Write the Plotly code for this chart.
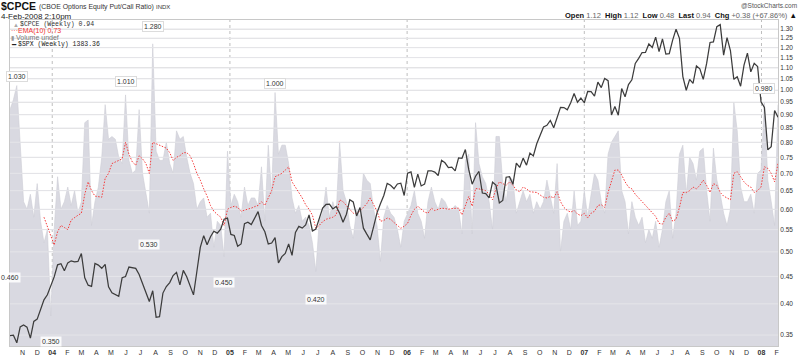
import math
import pandas as pd
import plotly.graph_objects as go

# ---------------- data (weekly, week-start Mondays) ----------------
week_first = "2003-10-06"
week_last = "2008-02-04"

cpce_close = [
    0.92, 0.96, 1.02, 0.80, 0.62, 0.60, 0.64, 0.58, 0.67, 0.57,
    0.52, 0.55, 0.38, 0.55, 0.69, 0.60, 0.62, 0.66, 0.61, 0.65,
    0.59, 0.62, 0.87, 0.88, 0.56, 0.62, 0.66, 0.75, 0.94, 0.81,
    0.82, 0.81, 0.75, 0.73, 0.98, 0.74, 0.70, 0.71, 0.92, 0.70,
    0.64, 0.59, 1.22, 0.77, 0.74, 0.74, 0.80, 0.73, 0.70, 0.84,
    0.81, 0.82, 0.75, 0.70, 0.67, 0.60, 0.62, 0.63, 0.58, 0.59,
    0.51, 0.57, 0.56, 0.49, 0.77, 0.61, 0.64, 0.62, 0.58, 0.66,
    0.61, 0.63, 0.63, 0.61, 0.72, 0.57, 0.79, 0.64, 0.99, 0.76,
    0.79, 0.79, 0.73, 0.63, 0.59, 0.61, 0.57, 0.58, 0.56, 0.52,
    0.46, 0.57, 0.59, 0.66, 0.58, 0.62, 0.59, 0.80, 0.65, 0.62,
    0.56, 0.53, 0.60, 0.58, 0.70, 0.68, 0.67, 0.60, 0.56, 0.48,
    0.58, 0.61, 0.59, 0.58, 0.55, 0.51, 0.57, 0.59, 0.61, 0.65,
    0.59, 0.57, 0.53, 0.62, 0.66, 0.62, 0.60, 0.63, 0.62, 0.60,
    0.60, 0.61, 0.60, 0.54, 0.74, 0.76, 0.54, 0.87, 0.73, 0.69,
    0.67, 0.62, 0.55, 0.82, 0.82, 0.67, 0.62, 0.69, 0.68, 0.59,
    0.62, 0.65, 0.62, 0.64, 0.59, 0.62, 0.60, 0.62, 0.68, 0.63,
    0.59, 0.73, 0.50, 0.57, 0.59, 0.55, 0.65, 0.56, 0.57, 0.65,
    0.58, 0.64, 0.70, 0.68, 0.62, 0.59, 0.76, 0.80, 0.82, 0.84,
    0.65, 0.62, 0.54, 0.62, 0.58, 0.56, 0.58, 0.52, 0.55, 0.53,
    0.57, 0.51, 0.55, 0.62, 0.65, 0.53, 0.59, 0.76, 0.79, 0.64,
    0.75, 0.73, 0.68, 0.77, 0.78, 0.65, 0.57, 0.78, 0.68, 0.64,
    0.59, 0.56, 0.60, 0.95, 0.84, 0.66, 0.62, 0.62, 0.64, 0.59,
    0.70, 0.71, 0.95, 0.68, 0.62, 0.56, 0.94,
]

ema10 = [None] * 10 + [
    0.580, 0.557, 0.535, 0.515, 0.545, 0.560, 0.555, 0.550, 0.573, 0.580,
    0.585, 0.590, 0.640, 0.675, 0.650, 0.635, 0.634, 0.632, 0.685, 0.700,
    0.730, 0.735, 0.740, 0.745, 0.800, 0.760, 0.735, 0.725, 0.755, 0.745,
    0.730, 0.700, 0.800, 0.795, 0.790, 0.785, 0.780, 0.765, 0.740, 0.750,
    0.755, 0.765, 0.765, 0.755, 0.730, 0.700, 0.680, 0.655, 0.635, 0.610,
    0.595, 0.587, 0.580, 0.560, 0.600, 0.605, 0.608, 0.605, 0.595, 0.598,
    0.600, 0.603, 0.607, 0.610, 0.620, 0.610, 0.630, 0.650, 0.690, 0.695,
    0.700, 0.710, 0.720, 0.675, 0.660, 0.648, 0.630, 0.612, 0.600, 0.585,
    0.553, 0.560, 0.569, 0.575, 0.578, 0.580, 0.586, 0.625, 0.620, 0.610,
    0.600, 0.590, 0.590, 0.595, 0.605, 0.615, 0.630, 0.610, 0.595, 0.570,
    0.572, 0.578, 0.575, 0.567, 0.560, 0.553, 0.558, 0.565, 0.585, 0.600,
    0.608, 0.600, 0.593, 0.590, 0.603, 0.597, 0.600, 0.603, 0.602, 0.600,
    0.602, 0.603, 0.603, 0.586, 0.608, 0.634, 0.608, 0.656, 0.655, 0.652,
    0.650, 0.640, 0.625, 0.655, 0.675, 0.670, 0.665, 0.675, 0.665, 0.652,
    0.647, 0.660, 0.655, 0.647, 0.645, 0.645, 0.638, 0.632, 0.630, 0.634,
    0.630, 0.647, 0.620, 0.605, 0.597, 0.593, 0.597, 0.588, 0.584, 0.590,
    0.578, 0.590, 0.595, 0.610, 0.612, 0.605, 0.645, 0.675, 0.710, 0.710,
    0.695, 0.675, 0.660, 0.655, 0.640, 0.630, 0.620, 0.610, 0.600, 0.590,
    0.582, 0.565, 0.563, 0.580, 0.590, 0.570, 0.575, 0.605, 0.645, 0.645,
    0.650, 0.660, 0.655, 0.665, 0.680, 0.665, 0.645, 0.670, 0.665, 0.645,
    0.635, 0.630, 0.625, 0.700, 0.705, 0.690, 0.675, 0.665, 0.660, 0.645,
    0.650, 0.660, 0.720, 0.715, 0.700, 0.675, 0.730,
]

spx_close = [
    1038.73, 1039.32, 1028.91, 1050.71, 1053.21, 1050.35, 1035.28, 1058.20, 1061.50, 1074.14, 1088.66, 1095.89,
    1108.48, 1121.86, 1139.83, 1141.55, 1131.13, 1142.76, 1145.81, 1144.11, 1144.94, 1156.86, 1120.57, 1109.78,
    1108.06, 1141.81, 1139.32, 1134.61, 1140.60, 1107.30, 1098.70, 1095.70, 1093.56, 1120.68, 1122.50, 1136.47,
    1135.02, 1134.43, 1125.38, 1112.81, 1101.39, 1086.20, 1101.72, 1063.97, 1064.80, 1098.35, 1107.77, 1113.63,
    1123.92, 1128.55, 1110.11, 1131.50, 1122.14, 1108.20, 1095.74, 1130.20, 1166.17, 1184.17, 1170.34, 1182.65,
    1191.17, 1188.00, 1194.20, 1210.13, 1211.92,
    1186.19, 1184.52, 1167.87, 1171.36, 1203.03, 1205.30, 1201.59, 1211.37, 1222.12, 1200.08, 1190.21, 1171.42,
    1172.92, 1181.20, 1142.62, 1152.12, 1156.85, 1171.35, 1154.05, 1189.28, 1198.78, 1196.02, 1200.93, 1216.96,
    1191.57, 1194.44, 1211.86, 1227.92, 1233.68, 1234.18, 1226.42, 1230.39, 1219.71, 1205.10, 1218.02, 1241.48,
    1237.91, 1215.29, 1228.81, 1195.90, 1186.57, 1177.80, 1198.41, 1220.14, 1234.72, 1248.27, 1268.25, 1265.08,
    1259.37, 1267.32, 1268.66, 1248.29,
    1285.45, 1287.61, 1261.49, 1283.72, 1264.03, 1266.99, 1289.38, 1289.43, 1287.23, 1281.42, 1307.25, 1302.95,
    1294.83, 1295.50, 1289.12, 1311.28, 1310.61, 1325.76, 1291.24, 1267.03, 1280.16, 1288.22, 1252.30, 1251.54,
    1244.50, 1270.20, 1265.48, 1236.20, 1240.29, 1278.55, 1279.36, 1266.74, 1302.30, 1295.09, 1311.01, 1298.92,
    1319.66, 1314.78, 1335.85, 1349.59, 1365.62, 1368.60, 1377.34, 1364.30, 1380.90, 1401.20, 1400.95, 1396.71,
    1409.84, 1427.09, 1410.76, 1418.30,
    1409.71, 1430.73, 1430.50, 1422.18, 1448.39, 1438.06, 1455.54, 1451.19, 1387.17, 1402.84, 1386.95, 1436.11,
    1420.86, 1443.76, 1452.85, 1484.35, 1494.07, 1505.62, 1505.85, 1522.75, 1515.73, 1536.34, 1507.67, 1532.91,
    1502.56, 1503.35, 1530.44, 1552.50, 1534.10, 1458.95, 1433.06, 1453.64, 1445.94, 1479.37, 1473.99, 1453.55,
    1484.25, 1525.75, 1526.75, 1557.59, 1561.80, 1500.63, 1535.28, 1509.65, 1453.70, 1458.74, 1440.70, 1481.14,
    1504.66, 1467.95, 1484.46, 1478.49,
    1411.63, 1401.02, 1325.19, 1330.61, 1395.42, 1383.36,
]

high_dates = ["2003-10-20", "2004-05-31", "2004-07-26", "2005-04-04", "2008-01-07"]
high_values = [1.030, 1.010, 1.280, 1.000, 0.980]
low_dates = ["2003-10-06", "2003-12-29", "2004-07-19", "2004-12-20", "2005-06-27"]
low_values = [0.460, 0.350, 0.530, 0.450, 0.420]

y_ticks = [1.30, 1.25, 1.20, 1.15, 1.10, 1.05, 1.00, 0.95, 0.90, 0.85, 0.80,
           0.75, 0.70, 0.65, 0.60, 0.55, 0.50, 0.45, 0.40, 0.35]
month_letters = ["J", "F", "M", "A", "M", "J", "J", "A", "S", "O", "N", "D"]
year_starts = ["2004-01-01", "2005-01-01", "2006-01-01", "2007-01-01", "2008-01-01"]

cpce_range = [0.3339, 1.3512]
spx_range = [1024.7, 1571.3]

# ---------------- figure ----------------
W, H = 800, 357
L, R, T, B = 10, 22, 20, 11
PW, PH = W - L - R, H - T - B


def px(x):
    return (x - L) / PW


def py(y):
    return 1 - (y - T) / PH


dates = pd.date_range(week_first, week_last, freq="W-MON")

fig = go.Figure()
fig.add_trace(go.Scatter(x=dates, y=[0.2] * len(dates), mode="lines",
                         line=dict(width=0), hoverinfo="skip", showlegend=False))
fig.add_trace(go.Scatter(x=dates, y=cpce_close, mode="lines", fill="tonexty",
                         fillcolor="rgb(217,217,225)",
                         line=dict(color="rgb(205,205,213)", width=0.6),
                         showlegend=False))

# horizontal gridlines drawn over the area but under the lines
gx, gy = [], []
for v in y_ticks:
    gx += [dates[0], dates[-1], None]
    gy += [v, v, None]
fig.add_trace(go.Scatter(x=gx, y=gy, mode="lines", hoverinfo="skip", showlegend=False,
                         line=dict(color="rgb(229,229,233)", width=1)))

fig.add_trace(go.Scatter(x=dates, y=ema10, mode="lines",
                         line=dict(color="rgb(245,60,60)", width=1, dash="1.5px,1.5px"),
                         showlegend=False))
fig.add_trace(go.Scatter(x=dates, y=spx_close, mode="lines", yaxis="y2",
                         line=dict(color="rgb(60,60,60)", width=1.25),
                         showlegend=False))

tickvals, ticktext = [], []
for d in pd.date_range("2003-11-01", "2008-02-01", freq="MS"):
    tickvals.append(d)
    ticktext.append("<b>%02d</b>" % (d.year % 100) if d.month == 1 else month_letters[d.month - 1])

shapes = []
for ys in year_starts:
    shapes.append(dict(type="line", xref="x", yref="paper", x0=ys, x1=ys, y0=0, y1=1,
                       layer="below",
                       line=dict(color="rgb(190,190,190)", width=1, dash="dot")))

ann = []
lbl_font = dict(family="Liberation Sans", size=7, color="#333")
for d, v in zip(high_dates, high_values):
    ann.append(dict(x=d, y=math.log10(v), xref="x", yref="y", text="%.3f" % v,
                    showarrow=False, yanchor="bottom", yshift=1, font=lbl_font,
                    bgcolor="white", bordercolor="#dcdcdc", borderwidth=1, borderpad=1))
for d, v in zip(low_dates, low_values):
    ann.append(dict(x=d, y=math.log10(v), xref="x", yref="y", text="%.3f" % v,
                    showarrow=False, yanchor="top", yshift=-1, font=lbl_font,
                    bgcolor="rgba(255,255,255,0.85)", borderpad=1))


def txt(x, y, t, size=7, color="#222", family="Liberation Sans", anchor="left"):
    ann.append(dict(x=px(x), y=py(y), xref="paper", yref="paper", text=t, showarrow=False,
                    xanchor=anchor, yanchor="middle", borderpad=0,
                    font=dict(family=family, size=size, color=color)))


txt(0, 6.5, "<b>$CPCE</b>", size=10.5, color="#111")
txt(38, 7, "(CBOE Options Equity Put/Call Ratio)", size=6.9, color="#333")
txt(155, 7, "INDX", size=6, color="#333")
txt(0, 16, "4-Feb-2008 2:10pm", size=8, color="#222")
txt(798, 5, "@StockCharts.com", size=6.5, color="#555", anchor="right")
txt(798, 15, "<b>Open</b> <span style='color:#666'>1.12</span>  <b>High</b> <span style='color:#666'>1.12</span>  "
             "<b>Low</b> <span style='color:#666'>0.48</span>  <b>Last</b> <span style='color:#666'>0.94</span>  "
             "<b>Chg</b> <span style='color:#666'>+0.38 (+67.86%)</span> ▲",
    size=7.5, color="#111", anchor="right")
txt(12, 24.5, "▲", size=6, color="#aaa")
txt(19, 24.5, "$CPCE (Weekly) 0.94", size=6.5, color="#333", family="Liberation Mono")
txt(10, 31, "···EMA(10) 0.73", size=7, color="rgb(240,50,50)")
txt(10, 37.5, "▮", size=6, color="#999")
txt(15, 37.5, "Volume undef", size=7, color="#777")
txt(10, 44, "━", size=7, color="#222")
txt(17, 44, "$SPX (Weekly) 1383.36", size=6.5, color="#222", family="Liberation Mono")

fig.update_layout(
    width=W, height=H, margin=dict(l=L, r=R, t=T, b=B, pad=0, autoexpand=False),
    paper_bgcolor="white", plot_bgcolor="white", showlegend=False,
    font=dict(family="Liberation Sans", size=7, color="#333"),
    xaxis=dict(range=[dates[0], dates[-1]], tickvals=tickvals, ticktext=ticktext,
               automargin=False,
               showgrid=False, zeroline=False, showline=True, mirror=True,
               linecolor="rgb(200,200,200)", ticks="", tickfont=dict(size=7, color="#333")),
    yaxis=dict(type="log", range=[math.log10(cpce_range[0]), math.log10(cpce_range[1])],
               automargin=False,
               side="right", tickvals=y_ticks, ticktext=["%.2f" % v for v in y_ticks],
               showgrid=True, gridcolor="rgb(226,226,226)", gridwidth=1, zeroline=False,
               showline=True, mirror=True, linecolor="rgb(200,200,200)",
               ticks="", tickfont=dict(size=6.5, color="#333")),
    yaxis2=dict(type="log", range=[math.log10(spx_range[0]), math.log10(spx_range[1])],
                overlaying="y", visible=False, automargin=False),
    shapes=shapes, annotations=ann,
)

fig.write_html("out.html", config={"displayModeBar": False},
               post_script="document.body.style.margin='0';document.body.style.overflow='hidden';")
